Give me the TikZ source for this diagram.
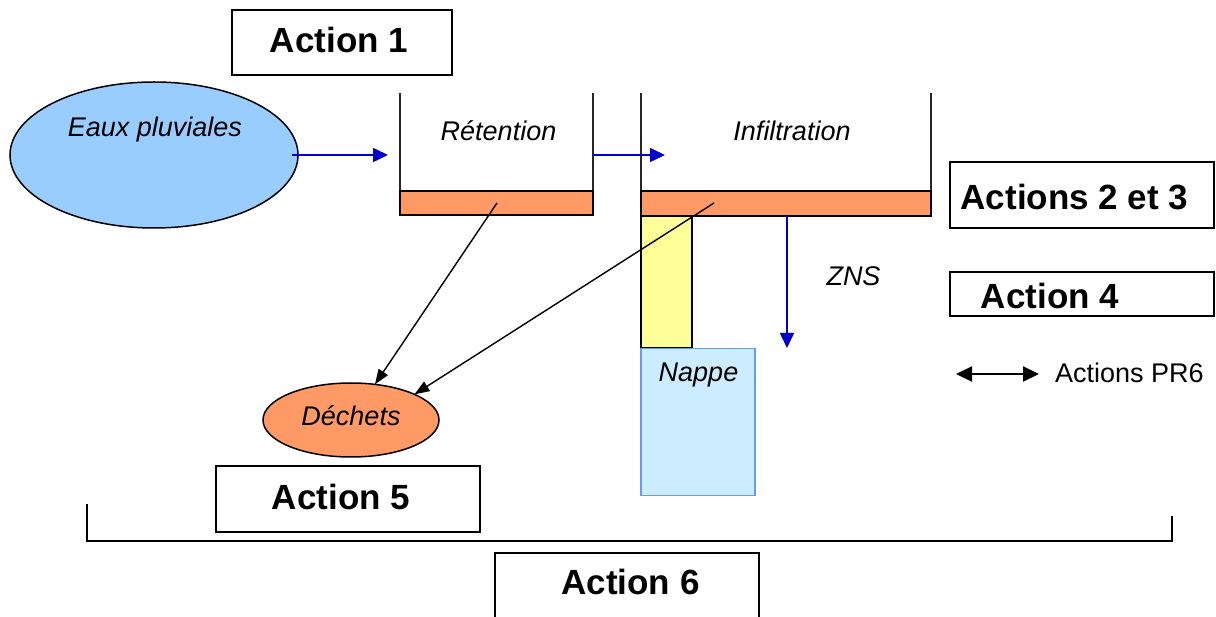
\documentclass[tikz,border=0pt]{standalone}
\usepackage{fontspec}
\setmainfont{Liberation Sans}
\usetikzlibrary{arrows.meta,shapes.geometric}
\definecolor{rain}{HTML}{99CCFF}
\definecolor{silt}{HTML}{FF9966}
\definecolor{pale}{HTML}{FFFF99}
\definecolor{aquifer}{HTML}{CCECFF}
\definecolor{aquiferedge}{HTML}{6699FF}
\definecolor{flow}{HTML}{0000CC}

\begin{document}
\begin{tikzpicture}[x=1pt,y=-1pt,
  actionbox/.style={draw=black, line width=1.8pt, inner sep=0pt, outer sep=0pt},
  actiontext/.style={font=\fontsize{35}{40}\selectfont\bfseries, inner sep=0pt,
                     text height=25.2pt, text depth=0pt},
  itext/.style={font=\fontsize{27}{32}\selectfont\itshape, inner sep=0pt,
                text height=19.4pt, text depth=0pt},
  plaintext/.style={font=\fontsize{27}{32}\selectfont, inner sep=0pt,
                text height=19.4pt, text depth=0pt},
  wall/.style={line width=1.5pt, draw=black!85},
  bar/.style={draw=black, line width=1.8pt, fill=silt},
  flowarrow/.style={draw=flow, line width=1.6pt, -{Triangle[length=15pt,width=14pt]}},
  wastearrow/.style={draw=black, line width=1.4pt, -{Triangle[length=15pt,width=11pt]}},
]
\useasboundingbox (0,0) rectangle (1216,617);

% Action boxes
\node[actionbox, minimum width=220, minimum height=65] (boxA1) at (342,42.5) {};
\node[actiontext] (tA1) at (339,40) {Action 1};
\node[actionbox, minimum width=264, minimum height=66] (boxA23) at (1082,195) {};
\node[actiontext] (tA23) at (1074.5,197) {Actions 2 et 3};
\node[actionbox, minimum width=264, minimum height=44] (boxA4) at (1082,294) {};
\node[actiontext] (tA4) at (1050,296) {Action 4};
\node[actionbox, minimum width=264, minimum height=66] (boxA5) at (348,499) {};
\node[actiontext] (tA5) at (341,497) {Action 5};
\node[actionbox, minimum width=264, minimum height=90] (boxA6) at (627,598) {};
\node[actiontext] (tA6) at (630.5,582) {Action 6};

% Rainwater source
\node[ellipse, draw=black, line width=1.5pt, fill=rain, inner sep=0pt, outer sep=0pt,
      minimum width=288, minimum height=146] (eaux) at (154,155) {};
\node[itext] (tEaux) at (155,127) {Eaux pluviales};

% Retention tank
\draw[wall] (400,93) -- (400,191);
\draw[wall] (593,93) -- (593,191);
\node[bar, minimum width=193, minimum height=24, inner sep=0pt, outer sep=0pt] (barR) at (496.5,203) {};
\node[itext] (tRet) at (498.5,131) {Rétention};

% Infiltration tank
\draw[wall] (641,93) -- (641,191);
\draw[wall] (931,93) -- (931,191);
\node[bar, minimum width=290, minimum height=25, inner sep=0pt, outer sep=0pt] (barI) at (786,203.5) {};
\node[itext] (tInf) at (792,131) {Infiltration};

% Column down to the water table
\node[draw=black, line width=1.8pt, fill=pale, minimum width=51, minimum height=132,
      inner sep=0pt, outer sep=0pt] (col) at (666.5,282) {};
\node[draw=aquiferedge, line width=1.8pt, fill=aquifer, minimum width=114, minimum height=147,
      inner sep=0pt, outer sep=0pt] (nappe) at (698,422) {};
\node[itext] (tNappe) at (698.5,372) {Nappe};

% Waste
\node[ellipse, draw=black, line width=1.5pt, fill=silt, inner sep=0pt, outer sep=0pt,
      minimum width=176, minimum height=74] (dechets) at (351,420) {};
\node[itext] (tDech) at (351,416) {Déchets};

% Flow arrows
\coordinate (eauxOut) at (292,155);
\coordinate (retIn) at (388,155);
\coordinate (retOut) at (593,155);
\coordinate (infIn) at (665,155);
\coordinate (znsTop) at (787,216);
\coordinate (znsBot) at (787,348);
\draw[flowarrow] (eauxOut) -- (retIn);
\draw[flowarrow] (retOut) -- (infIn);
\draw[flowarrow] (znsTop) -- (znsBot);
\node[itext] (tZNS) at (853.5,276) {ZNS};

% Waste arrows
\coordinate (barRsrc) at (497,203);
\coordinate (barIsrc) at (714,203);
\draw[wastearrow] (barRsrc) -- (dechets);
\draw[wastearrow] (barIsrc) -- (dechets.22);

% Legend
\coordinate (legL) at (956,374);
\coordinate (legR) at (1039,374);
\draw[line width=2pt, {Triangle[length=16pt,width=15pt]}-{Triangle[length=16pt,width=15pt]}] (legL) -- (legR);
\node[plaintext, anchor=west] (tLeg) at (1055,373) {Actions PR6};

% Bracket spanning the whole scheme
\coordinate (brA) at (87,504);
\coordinate (brB) at (87,541);
\coordinate (brC) at (1172,541);
\coordinate (brD) at (1172,516);
\draw[line width=2pt] (brA) -- (brB) -- (brC) -- (brD);
\end{tikzpicture}
\end{document}
